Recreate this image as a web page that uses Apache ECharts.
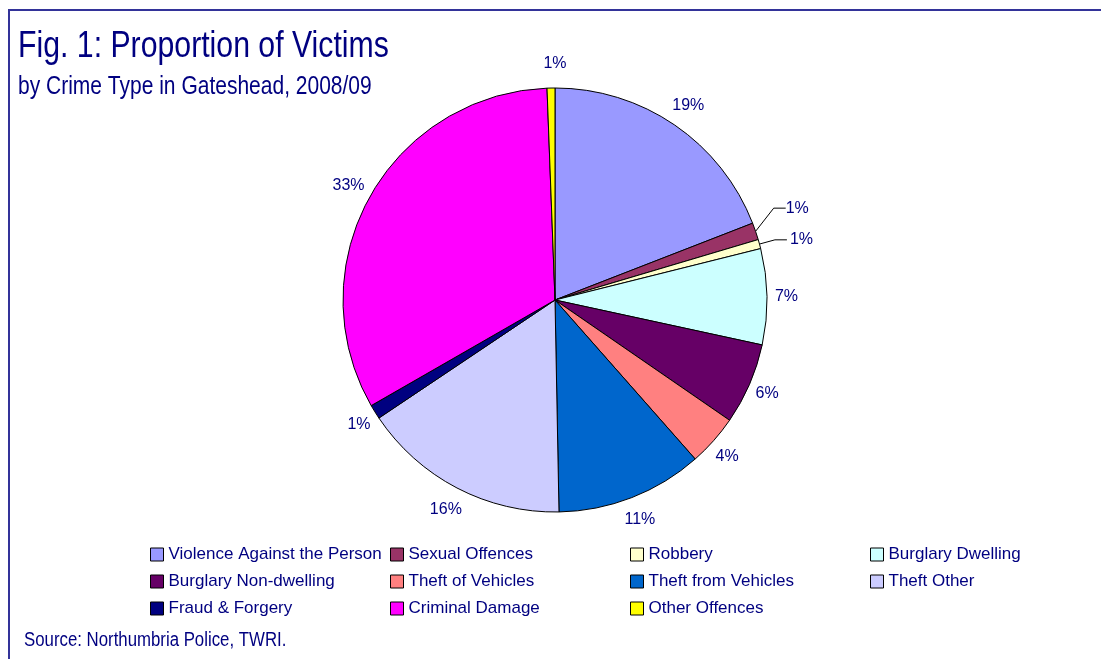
<!DOCTYPE html>
<html>
<head>
<meta charset="utf-8">
<script src="https://cdn.jsdelivr.net/npm/echarts@6/dist/echarts.min.js"></script>
<style>
  html, body { margin: 0; padding: 0; background: #fff; }
  #chart { width: 1101px; height: 659px; }
</style>
</head>
<body>
<div id="chart"></div>
<script>
// Share of victims (%) by crime type, clockwise from 12 o'clock
const CATEGORIES = [
  'Violence Against the Person', 'Sexual Offences', 'Robbery', 'Burglary Dwelling',
  'Burglary Non-dwelling', 'Theft of Vehicles', 'Theft from Vehicles', 'Theft Other',
  'Fraud & Forgery', 'Criminal Damage', 'Other Offences',
]
const SHARES = [19.1, 1.3, 0.7, 7.3, 6.2, 3.9, 11.2, 15.9, 1.1, 32.7, 0.6]
const COLORS = [
  '#9999ff', '#993366', '#ffffcc', '#ccffff',
  '#660066', '#ff8080', '#0066cc', '#ccccff',
  '#000080', '#ff00ff', '#ffff00',
]

// legend is laid out in 4 columns, row-major like the original
const LEGEND_COLUMNS = [
  ['Violence Against the Person', 'Burglary Non-dwelling', 'Fraud & Forgery'],
  ['Sexual Offences', 'Theft of Vehicles', 'Criminal Damage'],
  ['Robbery', 'Theft from Vehicles', 'Other Offences'],
  ['Burglary Dwelling', 'Theft Other'],
]
// thin slices whose labels get a leader line
const WITH_LEADER = ['Sexual Offences', 'Robbery']

const NAVY = '#000080'
const FONT = '"Liberation Sans", Arial, sans-serif'
// the original text is a narrow Arial; squeeze the free-standing texts
const NARROW = 0.84

const chart = echarts.init(document.getElementById('chart'), null, { renderer: 'canvas' })

const data = CATEGORIES.map((name, i) => {
  const item = { name, value: SHARES[i], itemStyle: { color: COLORS[i] } }
  if (WITH_LEADER.includes(name)) {
    item.labelLine = { show: true, length: 16, length2: 12 }
    item.label = { distanceToLabelLine: 3 }
  }
  return item
})

const legendX = [145, 385, 625, 865]

const headText = (text, x, y, size) => ({
  type: 'text', x, y, scaleX: NARROW, silent: true,
  style: { text, font: `${size}px ${FONT}`, fill: NAVY, verticalAlign: 'middle' },
})

chart.setOption({
  backgroundColor: '#fff',
  animation: false,
  graphic: [
    // frame (only top + left edges fall inside the picture)
    { type: 'rect', shape: { x: 9, y: 10, width: 1200, height: 800 },
      style: { fill: 'none', stroke: '#333399', lineWidth: 2 }, silent: true },
    headText('Fig. 1: Proportion of Victims', 18, 47, 36),
    headText('by Crime Type in Gateshead, 2008/09', 18, 87, 25),
    headText('Source: Northumbria Police, TWRI.', 24, 640, 20),
  ],
  legend: LEGEND_COLUMNS.map((col, i) => ({
    data: col,
    orient: 'vertical',
    left: legendX[i],
    top: 541,
    icon: 'rect',
    itemWidth: 13,
    itemHeight: 13,
    itemGap: 10,
    selectedMode: false,
    itemStyle: { borderColor: '#000', borderWidth: 1 },
    textStyle: { color: NAVY, fontFamily: FONT, fontSize: 17, lineHeight: 17 },
  })),
  series: [{
    type: 'pie',
    center: [555, 300],
    radius: 212,
    startAngle: 90,
    clockwise: true,
    avoidLabelOverlap: false,
    percentPrecision: 0,
    itemStyle: { borderColor: '#000', borderWidth: 1 },
    label: {
      position: 'outside',
      formatter: '{d}%',
      color: NAVY,
      fontFamily: FONT,
      fontSize: 16,
      distanceToLabelLine: -16,
    },
    labelLine: { show: false, length: 24, length2: 0, lineStyle: { color: '#000', width: 1 } },
    // lift the Sexual Offences label clear of its neighbour, like the original
    labelLayout: (p) => p.dataIndex === 1
      ? { y: p.labelRect.y + p.labelRect.height / 2 - 18 }
      : {},
    emphasis: { disabled: true },
    data,
  }],
})
</script>
</body>
</html>
